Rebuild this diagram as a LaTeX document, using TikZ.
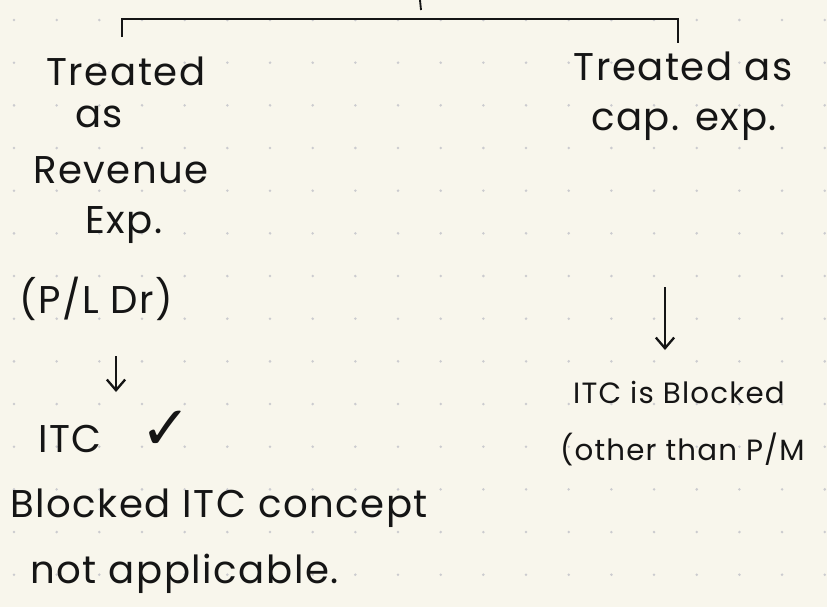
\documentclass[tikz,border=0pt]{standalone}
\usepackage{fontspec}
\setmainfont{Poppins}[LetterSpace=4]
\newfontfamily\symfont{DejaVu Sans}
\usetikzlibrary{arrows.meta}
\definecolor{paper}{HTML}{F8F6EC}
\definecolor{ink}{HTML}{151515}
\definecolor{dotgrey}{HTML}{CBCBCF}

\begin{document}
\begin{tikzpicture}[x=0.03cm, y=-0.03cm,
  note/.style={anchor=base, inner sep=0pt, text=ink, font=\fontsize{33}{40}\selectfont},
  noteleft/.style={note, anchor=base west},
  notesmall/.style={noteleft, font=\fontsize{25}{30}\selectfont},
  arr/.style={-{Straight Barb[length=3.2mm, width=5.5mm]}, line width=2pt, draw=ink},
  bar/.style={line width=1.6pt, draw=ink}
]
\fill[paper] (0,0) rectangle (827,607);
\clip (0,0) rectangle (827,607);
% dot grid
\foreach \i in {0,...,19}
  \foreach \j in {0,...,14}
    \fill[dotgrey] ({14+42.67*\i},{20+42.67*\j}) circle (1.2pt);
% left branch
\node[note] (lt1) at (126,85) {Treated};
\node[note] (lt2) at (99,127) {as};
\node[note] (lt3) at (121,183) {Revenue};
\node[note] (lt4) at (124,233) {Exp.};
\node[note] (pl) at (96,313) {(P/L Dr)};
\node[note] (itc) at (70,452) {ITC};
\node[anchor=center, inner sep=0pt, text=ink, font=\symfont\fontsize{52}{52}\selectfont] (tick) at (166,430) {✓};
\node[noteleft] (blk1) at (10,517) {Blocked ITC concept};
\node[noteleft] (blk2) at (30,583) {not applicable.};
% right branch
\node[note] (rt1) at (683,80) {Treated as};
\node[note] (rt2) at (684,130) {cap. exp.};
\node[notesmall] (rb1) at (573,403) {ITC is Blocked};
\node[notesmall] (rb2) at (560,460) {(other than P/M};
% bracket
\coordinate (root) at (420,0);
\coordinate (stem) at (421,10);
\coordinate (bl) at (122,19);
\coordinate (br) at (678,19);
\coordinate (lleg) at (122,37);
\coordinate (rleg) at (678,43);
\draw[bar] (root) -- (stem);
\draw[bar] (lleg) -- (bl) -- (br) -- (rleg);
% arrows
\coordinate (la1) at (116,356);
\coordinate (la2) at (116,392);
\coordinate (ra1) at (665,287);
\coordinate (ra2) at (665,350);
\draw[arr] (la1) -- (la2);
\draw[arr] (ra1) -- (ra2);
\end{tikzpicture}
\end{document}
